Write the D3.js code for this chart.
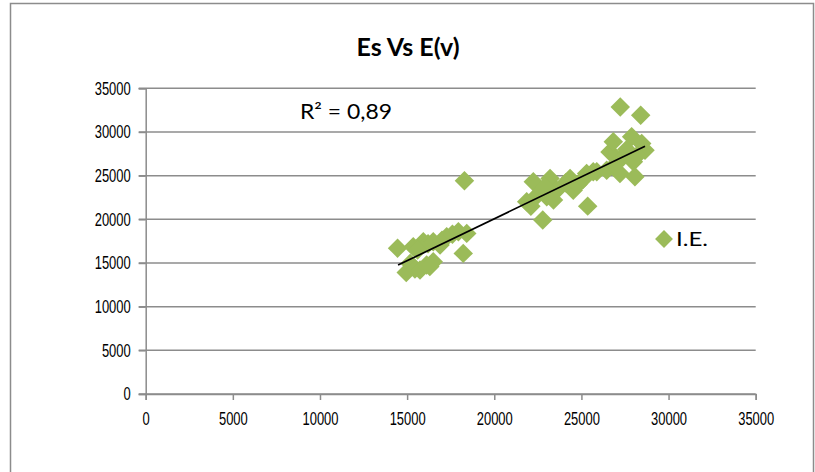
<!DOCTYPE html>
<html>
<head>
<meta charset="utf-8">
<script src="https://cdn.jsdelivr.net/npm/d3@7"></script>
<style>
  body { margin: 0; background: #fff; }
  svg { display: block; font-family: Lato, "Open Sans", sans-serif; }
</style>
</head>
<body>
<svg width="815" height="472"></svg>
<script>
// E(v) vs Es readings, I.E. series
const evValues = [
  14450, 14950, 15170, 15350, 15450, 15740, 15930, 16120, 16200, 16500,
  16500, 16890, 17000, 17270, 17600, 17940, 18220, 18420, 18290, 16300,
  15600,
  21860, 22100, 22240, 22500, 22780, 23010, 23200, 23580, 22900, 23400,
  24350, 24530, 24100, 24800, 25300, 25360, 25880, 25100,
  25680, 26450, 26640, 26830, 27210, 27230, 27400, 27880, 27980, 28070,
  28400, 28460, 28650, 26900, 27600, 28200
];
const esValues = [
  16700, 13900, 14950, 16850, 14300, 14190, 17430, 14760, 17200, 17430,
  15140, 17050, 17600, 18000, 18300, 18570, 16100, 18390, 24410, 14600,
  16500,
  22000, 21500, 24290, 22800, 19910, 22570, 24680, 23340, 23700, 22200,
  24680, 23340, 24200, 24000, 25250, 21510, 25440, 24600,
  25440, 25630, 27720, 28870, 25250, 32870, 27150, 29440, 26580, 24860,
  31920, 28680, 27920, 26200, 28000, 27300
];

// linear trendline ends (from the chart)
const trendX = [14480, 28650];
const trendY = [14760, 28375];

const xTicks = [0, 5000, 10000, 15000, 20000, 25000, 30000, 35000];
const yTicks = [0, 5000, 10000, 15000, 20000, 25000, 30000, 35000];

const title = "Es Vs E(v)";
const seriesName = "I.E.";
const r2Label = "R² = 0,89";

const green = "#9bbb59";
const gridColor = "#8c8c8c";

const svg = d3.select("svg");

// the original picture is squeezed sideways, so text is narrowed to fit
function squeeze(sel, perChar) {
  sel
    .attr("textLength", function () { return this.textContent.length * perChar; })
    .attr("lengthAdjust", "spacingAndGlyphs");
}

// outer chart frame
svg.append("rect")
  .attr("x", 10.5).attr("y", 3.5)
  .attr("width", 803).attr("height", 490)
  .attr("fill", "none")
  .attr("stroke", "#8c8c8c")
  .attr("stroke-width", 1.5);

const x = d3.scaleLinear().domain([0, 35000]).range([145.7, 755.7]);
const y = d3.scaleLinear().domain([0, 35000]).range([394, 88.3]);

// gridlines
svg.append("g")
  .selectAll("line")
  .data(yTicks)
  .join("line")
  .attr("x1", x(0) - 7).attr("x2", x(35000))
  .attr("y1", (d) => y(d)).attr("y2", (d) => y(d))
  .attr("stroke", gridColor)
  .attr("stroke-width", 1.5);

// y axis
const yAxis = svg.append("g")
  .attr("transform", `translate(${x(0)},0)`)
  .call(d3.axisLeft(y).tickValues(yTicks).tickSize(7).tickPadding(8).tickFormat(d3.format("d")));
yAxis.select(".domain").attr("stroke", gridColor).attr("stroke-width", 1.5);
yAxis.selectAll(".tick line").attr("stroke", gridColor).attr("stroke-width", 1.5);
yAxis.selectAll("text").attr("font-size", 18).attr("fill", "#000").call(squeeze, 7.2);

// x axis
const xAxis = svg.append("g")
  .attr("transform", `translate(0,${y(0)})`)
  .call(d3.axisBottom(x).tickValues(xTicks).tickSize(6).tickPadding(12).tickFormat(d3.format("d")));
xAxis.select(".domain").attr("stroke", gridColor).attr("stroke-width", 1.5);
xAxis.selectAll(".tick line").attr("stroke", gridColor).attr("stroke-width", 1.5);
xAxis.selectAll("text").attr("font-size", 18).attr("fill", "#000").call(squeeze, 7.2);

// markers
const diamond = d3.symbol().type(d3.symbolSquare).size(190);
svg.append("g")
  .selectAll("path")
  .data(evValues.map((v, i) => [v, esValues[i]]))
  .join("path")
  .attr("d", diamond)
  .attr("transform", (d) => `translate(${x(d[0])},${y(d[1])}) rotate(45)`)
  .attr("fill", green);

// trendline
svg.append("line")
  .attr("x1", x(trendX[0])).attr("y1", y(trendY[0]))
  .attr("x2", x(trendX[1])).attr("y2", y(trendY[1]))
  .attr("stroke", "#000")
  .attr("stroke-width", 1.7);

// title
svg.append("text")
  .attr("x", 408).attr("y", 56)
  .attr("text-anchor", "middle")
  .attr("font-size", 24)
  .attr("font-weight", "bold")
  .attr("textLength", 103)
  .attr("lengthAdjust", "spacingAndGlyphs")
  .text(title);

// R² label
svg.append("text")
  .attr("x", 300).attr("y", 119)
  .attr("font-size", 21)
  .attr("textLength", 92)
  .attr("lengthAdjust", "spacingAndGlyphs")
  .text(r2Label);

// legend
const legend = svg.append("g").attr("transform", "translate(664,239)");
legend.append("path")
  .attr("d", d3.symbol().type(d3.symbolSquare).size(160))
  .attr("transform", "rotate(45)")
  .attr("fill", green);
legend.append("text")
  .attr("x", 12).attr("y", 7)
  .attr("font-size", 20)
  .attr("textLength", 32)
  .attr("lengthAdjust", "spacingAndGlyphs")
  .text(seriesName);
</script>
</body>
</html>
